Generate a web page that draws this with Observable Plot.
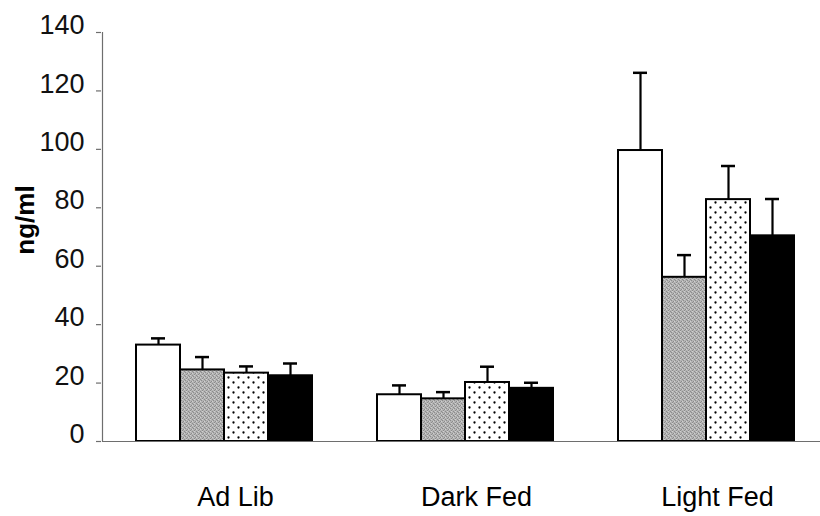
<!DOCTYPE html>
<html>
<head>
<meta charset="utf-8">
<script src="https://cdn.jsdelivr.net/npm/d3@7"></script>
<script src="https://cdn.jsdelivr.net/npm/@observablehq/plot@0.6"></script>
<style>
  html, body { margin: 0; padding: 0; background: #fff; }
  #chart svg { display: block; }
</style>
</head>
<body>
<div id="chart"></div>
<script>
// ---- data ----
const groups = ["Ad Lib", "Dark Fed", "Light Fed"];
const series = ["S1", "S2", "S3", "S4"];
const means = {
  "Ad Lib":    [33.0, 24.5, 23.4, 22.5],
  "Dark Fed":  [16.0, 14.6, 20.2, 18.2],
  "Light Fed": [99.6, 56.2, 82.8, 70.4]
};
const errors = {
  "Ad Lib":    [2.3, 4.4, 2.3, 4.2],
  "Dark Fed":  [3.2, 2.3, 5.4, 1.9],
  "Light Fed": [26.6, 7.6, 11.5, 12.6]
};
const yTicks = [0, 20, 40, 60, 80, 100, 120, 140];
const yLabel = "ng/ml";

const rows = groups.flatMap(g => series.map((s, i) => ({
  group: g, series: s, value: means[g][i], err: errors[g][i]
})));

const font = "'Liberation Sans', Arial, Helvetica, sans-serif";
const axisGray = "#6e6e6e";

const plot = Plot.plot({
  width: 820,
  height: 516,
  marginLeft: 101,
  marginRight: 12,
  marginTop: 32,
  marginBottom: 75,
  style: { fontFamily: font, background: "#fff", color: "#111" },
  fx: { domain: groups, paddingInner: 0.0785, paddingOuter: 0, label: null },
  x: { domain: series, paddingInner: 0, paddingOuter: 0.506, align: 0.733, axis: null },
  y: { domain: [0, 140], axis: null },
  color: { domain: series, range: ["#ffffff", "url(#pat-gray)", "url(#pat-dots)", "#000000"] },
  marks: [
    Plot.barY(rows, { fx: "group", x: "series", y: "value", fill: "series",
      stroke: "#000", strokeWidth: 2 }),
    Plot.ruleX(rows, { fx: "group", x: "series", y1: "value", y2: d => d.value + d.err,
      stroke: "#000", strokeWidth: 2.2 }),
    Plot.tickY(rows, { fx: "group", x: "series", y: d => d.value + d.err,
      insetLeft: 15, insetRight: 15, stroke: "#000", strokeWidth: 2.5 }),
    // baseline (continuous across the gaps)
    Plot.ruleY([0], { insetRight: -20, stroke: axisGray, strokeWidth: 1.2 }),
    // y axis line
    Plot.frame({ anchor: "left", facetAnchor: "left", stroke: axisGray, strokeWidth: 1.2 }),
    // y ticks
    Plot.ruleY(yTicks, { fx: () => groups[0], y: d => d, insetLeft: -6, insetRight: 223,
      stroke: axisGray, strokeWidth: 1.2 }),
    // y tick labels
    Plot.axisY(yTicks, {
      tickSize: 0, tickPadding: 18, dy: -7,
      fontSize: 27, fill: "#111", label: null
    }),
    Plot.text([{ g: groups[0], label: yLabel }], {
      fx: "g", text: "label", frameAnchor: "left", textAnchor: "middle",
      dx: -77, dy: -17, rotate: -90,
      fontSize: 26, fontWeight: "bold", fill: "#000"
    }),
    Plot.axisFx({ anchor: "bottom", tickSize: 0, tickPadding: 45, fontSize: 27,
      dx: 22, fill: "#000", label: null })
  ]
});

const svg = plot;
const defs = document.createElementNS("http://www.w3.org/2000/svg", "defs");
defs.innerHTML = `
  <pattern id="pat-gray" patternUnits="userSpaceOnUse" width="4" height="4">
    <rect width="4" height="4" fill="#b4b4b4"/>
    <rect x="0" y="0" width="1" height="1" fill="#8c8c8c"/>
    <rect x="2" y="1" width="1" height="1" fill="#8c8c8c"/>
    <rect x="1" y="2" width="1" height="1" fill="#8c8c8c"/>
    <rect x="3" y="3" width="1" height="1" fill="#8c8c8c"/>
    <rect x="3" y="1" width="1" height="1" fill="#d0d0d0"/>
    <rect x="1" y="3" width="1" height="1" fill="#d0d0d0"/>
  </pattern>
  <pattern id="pat-dots" patternUnits="userSpaceOnUse" width="10" height="10">
    <rect width="10" height="10" fill="#ffffff"/>
    <circle cx="2.5" cy="2.5" r="1.15" fill="#000"/>
    <circle cx="7.5" cy="7.5" r="1.15" fill="#000"/>
  </pattern>`;
svg.insertBefore(defs, svg.firstChild);
document.getElementById("chart").appendChild(plot);
</script>
</body>
</html>
